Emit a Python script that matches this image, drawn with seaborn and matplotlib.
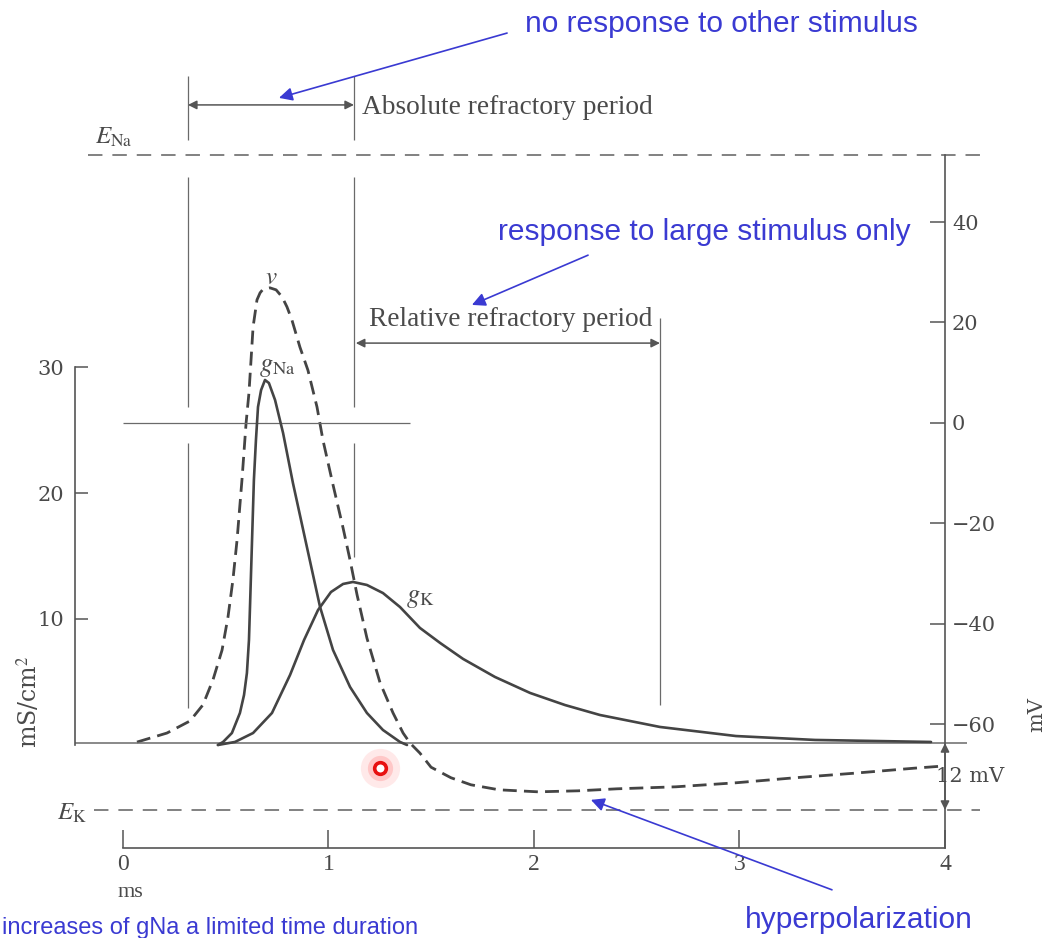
import numpy as np
import pandas as pd
import matplotlib
matplotlib.use('Agg')
import matplotlib.pyplot as plt
import seaborn as sns

sns.set_theme(style="white")
plt.rcParams['font.family'] = ['DejaVu Serif']
plt.rcParams['mathtext.fontset'] = 'stix'

# ------------------------------------------------------------
# values
# ------------------------------------------------------------
# membrane potential v (ms, mV)
v_t = [0.068, 0.214, 0.326, 0.389, 0.438, 0.482, 0.511, 0.535, 0.555, 0.579,
       0.599, 0.613, 0.623, 0.633, 0.652, 0.667, 0.681, 0.715, 0.745, 0.774,
       0.798, 0.822, 0.861, 0.900, 0.944, 0.973, 1.022, 1.071, 1.105, 1.139,
       1.187, 1.251, 1.314, 1.363, 1.397, 1.445, 1.499, 1.596, 1.693, 1.830,
       2.019, 2.214, 2.404, 2.691, 2.983, 3.270, 3.557, 3.849, 3.981]
v_mv = [-63.5, -61.7, -59.3, -56.1, -51.1, -45.2, -38.6, -31.2, -23.3, -11.3,
        0.0, 6.0, 12.5, 19.1, 24.5, 25.9, 26.6, 26.9, 26.5, 25.1,
        23.1, 20.5, 15.1, 10.5, 3.2, -3.4, -12.3, -20.9, -27.3, -34.2,
        -42.8, -51.7, -57.7, -61.7, -63.7, -65.7, -68.5, -70.6, -72.0, -73.0,
        -73.4, -73.2, -72.8, -72.4, -71.6, -70.6, -69.7, -68.7, -68.3]

# sodium conductance gNa (ms, mS/cm2)
gna_t = [0.462, 0.487, 0.530, 0.569, 0.589, 0.603, 0.613, 0.618, 0.628, 0.637,
         0.647, 0.657, 0.672, 0.691, 0.710, 0.740, 0.779, 0.827, 0.895, 0.959,
         1.022, 1.105, 1.187, 1.265, 1.348, 1.382]
gna_val = [0.0, 0.24, 0.95, 2.54, 3.97, 5.71, 8.33, 10.95, 16.27, 21.03,
           24.21, 26.83, 28.17, 28.97, 28.73, 27.38, 24.76, 20.79, 15.71, 10.95,
           7.54, 4.60, 2.54, 1.19, 0.24, 0.0]

# potassium conductance gK (ms, mS/cm2)
gk_t = [0.462, 0.545, 0.633, 0.725, 0.813, 0.881, 0.949, 1.012, 1.071, 1.119,
        1.187, 1.265, 1.348, 1.445, 1.543, 1.655, 1.810, 1.981, 2.151, 2.321,
        2.613, 2.983, 3.367, 3.932]
gk_val = [0.0, 0.24, 0.95, 2.54, 5.56, 8.33, 10.71, 12.14, 12.78, 12.94,
          12.70, 12.06, 10.95, 9.29, 8.10, 6.83, 5.40, 4.13, 3.17, 2.38,
          1.43, 0.71, 0.40, 0.24]

rest_mv = -63.7
e_na_mv = 53.3
e_k_mv = -77.0
time_axis_mv = -84.6

mv_ticks = [-60, -40, -20, 0, 20, 40]
g_ticks = [10, 20, 30]
t_ticks = [0, 1, 2, 3, 4]

abs_refr = (0.316, 1.124)
rel_refr = (1.133, 2.613)

# refractory marker lines: time, lower mV, upper mV
mark_t = [0.316, 0.316, 0.316, 1.124, 1.124, 1.124, 2.613]
mark_lo = [56.3, 3.2, -56.7, 56.3, 3.2, -26.7, -56.1]
mark_hi = [69.0, 49.0, -4.0, 69.0, 49.0, -4.0, 20.9]

cursor_t, cursor_mv = 1.251, -68.7

v_df = pd.DataFrame({'t': v_t, 'mv': v_mv})
gna_df = pd.DataFrame({'t': gna_t, 'g': gna_val})
gk_df = pd.DataFrame({'t': gk_t, 'g': gk_val})

ink = '#444444'
thin = '#6a6a6a'
txt = '#4a4a4a'
blue = '#3a3ad2'

fig = plt.figure(figsize=(10.52, 9.38), dpi=100)
ax = fig.add_axes([0, 0, 1, 1])
ax2 = ax.twinx()
ax.set_xlim(-0.5985, 4.5207)
ax.set_ylim(-102.49, 84.18)
ax2.set_ylim(-15.32, 59.13)

# ---- curves ----
sns.lineplot(data=v_df, x='t', y='mv', ax=ax, color=ink, lw=2.0,
             linestyle=(0, (5, 2.6)), estimator=None, sort=False)
sns.lineplot(data=gna_df, x='t', y='g', ax=ax2, color=ink, lw=1.9,
             estimator=None, sort=False)
sns.lineplot(data=gk_df, x='t', y='g', ax=ax2, color=ink, lw=1.9,
             estimator=None, sort=False)

# ---- reference lines ----
ax.hlines(rest_mv, -0.2336, 4.107, color=thin, lw=1.1)
ax.hlines(0, 0, 1.397, color=thin, lw=0.9)
ax.plot([-0.170, 4.170], [e_na_mv, e_na_mv], color='#777777', lw=1.3,
        linestyle=(0, (8, 5.5)))
ax.plot([-0.141, 4.170], [e_k_mv, e_k_mv], color='#777777', lw=1.3,
        linestyle=(0, (8, 5.5)))
ax.vlines(mark_t, mark_lo, mark_hi, color=thin, lw=0.9)

# ---- period arrows ----
dbl = dict(arrowstyle='<|-|>', color='#555555', lw=1.1, mutation_scale=13,
           shrinkA=0, shrinkB=0)
ax.annotate('', xy=(abs_refr[0], 63.3), xytext=(abs_refr[1], 63.3), arrowprops=dbl)
ax.annotate('', xy=(rel_refr[0], 15.9), xytext=(rel_refr[1], 15.9), arrowprops=dbl)
ax.annotate('', xy=(4.0, rest_mv), xytext=(4.0, e_k_mv), arrowprops=dbl)

ax.text(1.163, 62.7, 'Absolute refractory period', family='Liberation Serif',
        fontsize=19.7, color=txt, ha='left', va='center')
ax.text(1.888, 20.5, 'Relative refractory period', family='Liberation Serif',
        fontsize=19.7, color=txt, ha='center', va='center')
ax.text(4.12, -70.4, '12 mV', fontsize=15, color=txt, ha='center', va='center')

# ---- curve / level labels ----
ax.text(0.720, 29.0, r'$v$', fontsize=18, color=txt, ha='center', va='center')
ax.text(0.749, 11.3, r'$g_{\mathrm{Na}}$', fontsize=19, color=txt, ha='center', va='center')
ax.text(1.445, -34.8, r'$g_{\mathrm{K}}$', fontsize=19, color=txt, ha='center', va='center')
ax.text(-0.044, 56.9, r'$E_{\mathrm{Na}}$', fontsize=18, color=txt, ha='center', va='center')
ax.text(-0.248, -77.6, r'$E_{\mathrm{K}}$', fontsize=18, color=txt, ha='center', va='center')

# ---- axes ----
for s in ['left', 'top']:
    ax.spines[s].set_visible(False)
for s in ['right', 'bottom']:
    ax.spines[s].set_color('#555555')
    ax.spines[s].set_linewidth(1.2)
ax.spines['right'].set_position(('data', 4.0))
ax.spines['right'].set_bounds(time_axis_mv, e_na_mv)
ax.spines['bottom'].set_position(('data', time_axis_mv))
ax.spines['bottom'].set_bounds(0, 4)
ax.yaxis.tick_right()
ax.yaxis.set_label_position('right')
ax.set_yticks(mv_ticks, labels=[str(m).replace('-', '\u2212') for m in mv_ticks],
              fontsize=15, color=txt)
ax.set_xticks(t_ticks, labels=[str(t) for t in t_ticks],
              family='Liberation Serif', fontsize=17, color=txt)
ax.tick_params(axis='y', direction='in', length=11, width=1.1, pad=5,
               color='#555555', right=True)
ax.tick_params(axis='x', direction='in', length=13, width=1.1, pad=4,
               color='#555555', bottom=True)
ax.set_ylabel('mV', fontsize=15, color=txt, rotation=90)
ax.yaxis.set_label_coords(1027 / 1052, 1 - 715 / 938)
ax.set_xlabel('ms', family='Liberation Serif', fontsize=16, color=txt)
ax.xaxis.set_label_coords(130 / 1052, 1 - 883 / 938)

for s in ['right', 'top', 'bottom']:
    ax2.spines[s].set_visible(False)
ax2.spines['left'].set_visible(True)
ax2.spines['left'].set_color('#555555')
ax2.spines['left'].set_linewidth(1.2)
ax2.spines['left'].set_position(('data', -0.2336))
ax2.spines['left'].set_bounds(0, 30)
ax2.yaxis.tick_left()
ax2.yaxis.set_label_position('left')
ax2.set_yticks(g_ticks, labels=[str(g) for g in g_ticks], fontsize=15, color=txt)
ax2.tick_params(axis='y', direction='in', length=9.5, width=1.1, pad=8,
                color='#555555', left=True)
ax2.set_ylabel('mS/cm$^2$', fontsize=17, color=txt)
ax2.yaxis.set_label_coords(42 / 1052, 1 - 702 / 938)
ax.grid(False)
ax2.grid(False)

# ---- blue annotations ----
arr = dict(arrowstyle='-|>', color=blue, lw=1.2, mutation_scale=20,
           shrinkA=0, shrinkB=0)
ax.text(1.956, 77.8, 'no response to other stimulus', family='Liberation Sans',
        fontsize=21.5, color=blue, ha='left', va='baseline')
ax.annotate('', xy=(0.759, 64.7), xytext=(1.869, 77.6), arrowprops=arr)
ax.text(1.825, 36.4, 'response to large stimulus only', family='Liberation Sans',
        fontsize=21.5, color=blue, ha='left', va='baseline')
ax.annotate('', xy=(1.698, 23.5), xytext=(2.263, 33.4), arrowprops=arr)
ax.text(3.027, -100.5, 'hyperpolarization', family='Liberation Sans',
        fontsize=21.5, color=blue, ha='left', va='baseline')
ax.annotate('', xy=(2.277, -75.0), xytext=(3.450, -92.9), arrowprops=arr)
ax.text(-0.589, -101.6, 'increases of gNa a limited time duration',
        family='Liberation Sans', fontsize=17, color=blue, ha='left', va='baseline')

# ---- cursor highlight ----
ax.scatter([cursor_t], [cursor_mv], s=800, color='#ff3030', alpha=0.10, lw=0, zorder=5)
ax.scatter([cursor_t], [cursor_mv], s=330, color='#ff3030', alpha=0.18, lw=0, zorder=5)
ax.scatter([cursor_t], [cursor_mv], s=70, facecolor='white', edgecolor='#e81010',
           lw=2.6, zorder=6)

fig.savefig('out.png', dpi=100, facecolor='white')
plt.close(fig)
